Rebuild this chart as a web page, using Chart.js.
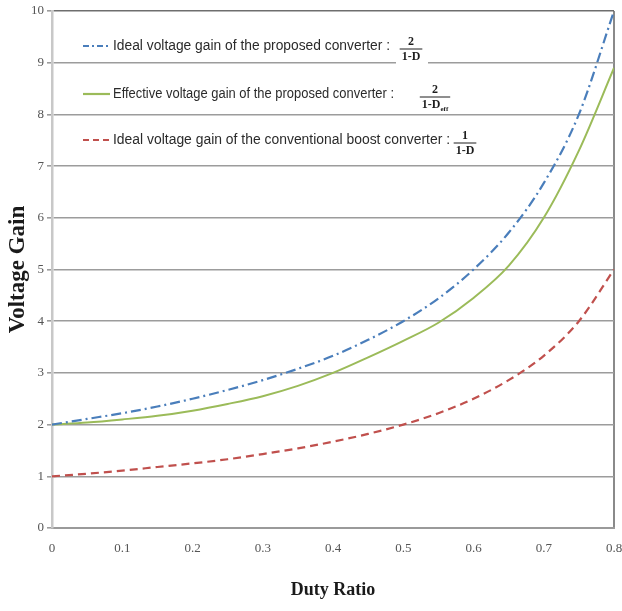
<!DOCTYPE html>
<html>
<head>
<meta charset="utf-8">
<script src="https://cdn.jsdelivr.net/npm/chart.js@4"></script>
<style>
    html, body { margin: 0; padding: 0; background: #fff; }
    #wrap { width: 622px; height: 611px; }
</style>
</head>
<body>
<div id="wrap"><canvas id="gainChart" width="622" height="611"></canvas></div>
<script>
const dutyRatio = [0, 0.05, 0.1, 0.15, 0.2, 0.25, 0.3, 0.35, 0.4, 0.45, 0.5, 0.55, 0.6, 0.65, 0.7, 0.75, 0.8];
const idealProposed = [2.00, 2.11, 2.22, 2.35, 2.50, 2.67, 2.86, 3.08, 3.33, 3.64, 4.00, 4.44, 5.00, 5.71, 6.67, 8.00, 10.00];
const effectiveProposed = [2.00, 2.04, 2.10, 2.17, 2.27, 2.40, 2.55, 2.75, 3.00, 3.30, 3.62, 3.97, 4.45, 5.07, 6.00, 7.30, 8.90];
const idealBoost = [1.00, 1.05, 1.11, 1.18, 1.25, 1.33, 1.43, 1.54, 1.67, 1.82, 2.00, 2.22, 2.50, 2.86, 3.33, 4.00, 5.00];

const legendLabels = [
    'Ideal voltage gain of the proposed converter :',
    'Effective voltage gain of the proposed converter :',
    'Ideal voltage gain of the conventional boost converter :'
];
const numerators = ['2', '2', '1'];
const denominators = ['1-D', '1-D', '1-D'];
const denominatorSubs = ['', 'eff', ''];

const blue = '#4a7ebb';
const green = '#9bbb59';
const red = '#c0504d';

function toPoints(values) {
    return dutyRatio.map((d, i) => ({ x: d, y: values[i] }));
}

// legend with the little formula fractions, drawn on top of the plot
const formulaLegend = {
    id: 'formulaLegend',
    afterDatasetsDraw(chart) {
        const ctx = chart.ctx;
        const rowY = [46, 94, 140];
        const textWidth = [277, 281, 337];
        const fracX = [411, 435, 465];
        const styles = [
            { color: blue, dash: [6, 3, 2, 3], width: 2.2 },
            { color: green, dash: [], width: 2.2 },
            { color: red, dash: [6, 4], width: 2.2 }
        ];
        ctx.save();
        legendLabels.forEach((label, i) => {
            const y = rowY[i];
            ctx.strokeStyle = styles[i].color;
            ctx.lineWidth = styles[i].width;
            ctx.setLineDash(styles[i].dash);
            ctx.beginPath();
            ctx.moveTo(83, y);
            ctx.lineTo(110, y);
            ctx.stroke();
            ctx.setLineDash([]);

            ctx.fillStyle = '#2b2b2b';
            ctx.font = '14px "Liberation Sans Narrow", "Liberation Sans", sans-serif';
            ctx.textAlign = 'left';
            ctx.textBaseline = 'middle';
            ctx.fillText(label, 113, y, textWidth[i]);

            // fraction
            const cx = fracX[i];
            const barY = y + 3;
            ctx.fillStyle = '#fff';
            ctx.fillRect(cx - 15, barY - 13, 32, 28);
            ctx.fillStyle = '#1e1e1e';
            ctx.font = 'bold 12px "Liberation Serif", serif';
            ctx.textAlign = 'center';
            ctx.fillText(numerators[i], cx, barY - 7);
            const sub = denominatorSubs[i];
            let denomW = ctx.measureText(denominators[i]).width;
            ctx.font = 'bold 7px "Liberation Serif", serif';
            const subW = sub ? ctx.measureText(sub).width : 0;
            const totalW = denomW + subW;
            ctx.strokeStyle = '#1e1e1e';
            ctx.lineWidth = 1;
            ctx.beginPath();
            ctx.moveTo(cx - totalW / 2 - 2, barY);
            ctx.lineTo(cx + totalW / 2 + 2, barY);
            ctx.stroke();
            ctx.font = 'bold 12px "Liberation Serif", serif';
            ctx.textAlign = 'left';
            ctx.fillText(denominators[i], cx - totalW / 2, barY + 8);
            if (sub) {
                ctx.font = 'bold 7px "Liberation Serif", serif';
                ctx.fillText(sub, cx - totalW / 2 + denomW, barY + 12);
            }
        });
        ctx.restore();
    }
};

const ctx = document.getElementById('gainChart').getContext('2d');
const gainChart = new Chart(ctx, {
    type: 'line',
    data: {
        datasets: [
            {
                label: 'Ideal voltage gain of the proposed converter',
                data: toPoints(idealProposed),
                borderColor: blue,
                borderWidth: 2.2,
                borderDash: [10, 4, 2, 4],
                pointRadius: 0,
                cubicInterpolationMode: 'monotone',
                fill: false
            },
            {
                label: 'Effective voltage gain of the proposed converter',
                data: toPoints(effectiveProposed),
                borderColor: green,
                borderWidth: 2,
                pointRadius: 0,
                cubicInterpolationMode: 'monotone',
                fill: false
            },
            {
                label: 'Ideal voltage gain of the conventional boost converter',
                data: toPoints(idealBoost),
                borderColor: red,
                borderWidth: 2.2,
                borderDash: [8, 5],
                pointRadius: 0,
                cubicInterpolationMode: 'monotone',
                fill: false
            }
        ]
    },
    options: {
        responsive: false,
        animation: false,
        layout: { padding: { top: 11, right: 8, left: 0, bottom: 0 } },
        plugins: {
            legend: { display: false },
            tooltip: { enabled: false }
        },
        scales: {
            x: {
                type: 'linear',
                min: 0,
                max: 0.8,
                afterFit: function(scale) {
                    scale.height = 83;
                    scale.paddingLeft = 0;
                    scale.paddingRight = 0;
                },
                ticks: {
                    stepSize: 0.1,
                    autoSkip: false,
                    maxRotation: 0,
                    padding: 13,
                    color: '#555',
                    font: { family: '"Liberation Serif", serif', size: 13 },
                    callback: function(value) {
                        return value === 0 ? '0' : value.toFixed(1);
                    }
                },
                grid: {
                    drawTicks: false,
                    lineWidth: 2,
                    color: function(c) {
                        return c.tick && Math.abs(c.tick.value - 0.8) < 1e-6 ? '#8a8a8a' : 'rgba(0,0,0,0)';
                    }
                },
                border: { color: '#9a9a9a', width: 2 },
                title: {
                    display: true,
                    text: 'Duty Ratio',
                    color: '#1a1a1a',
                    padding: { top: 0, bottom: 10 },
                    font: { family: '"Liberation Serif", serif', size: 18, weight: 'bold', lineHeight: 1.2 }
                }
            },
            y: {
                min: 0,
                max: 10,
                afterFit: function(scale) {
                    scale.width = 52;
                    scale.paddingTop = 0;
                    scale.paddingBottom = 0;
                },
                ticks: {
                    stepSize: 1,
                    padding: 3,
                    color: '#555',
                    font: { family: '"Liberation Serif", serif', size: 13 }
                },
                grid: {
                    tickLength: 5,
                    lineWidth: 1.6,
                    color: function(c) {
                        return c.tick && c.tick.value === 10 ? '#6e6e6e' : '#9c9c9c';
                    },
                    tickColor: '#9c9c9c'
                },
                border: { color: '#c8c8c8', width: 2.5 },
                title: {
                    display: true,
                    text: 'Voltage Gain',
                    color: '#1a1a1a',
                    padding: { top: 4, bottom: 0 },
                    font: { family: '"Liberation Serif", serif', size: 23, weight: 'bold', lineHeight: 1.2 }
                }
            }
        }
    },
    plugins: [formulaLegend]
});
</script>
</body>
</html>
